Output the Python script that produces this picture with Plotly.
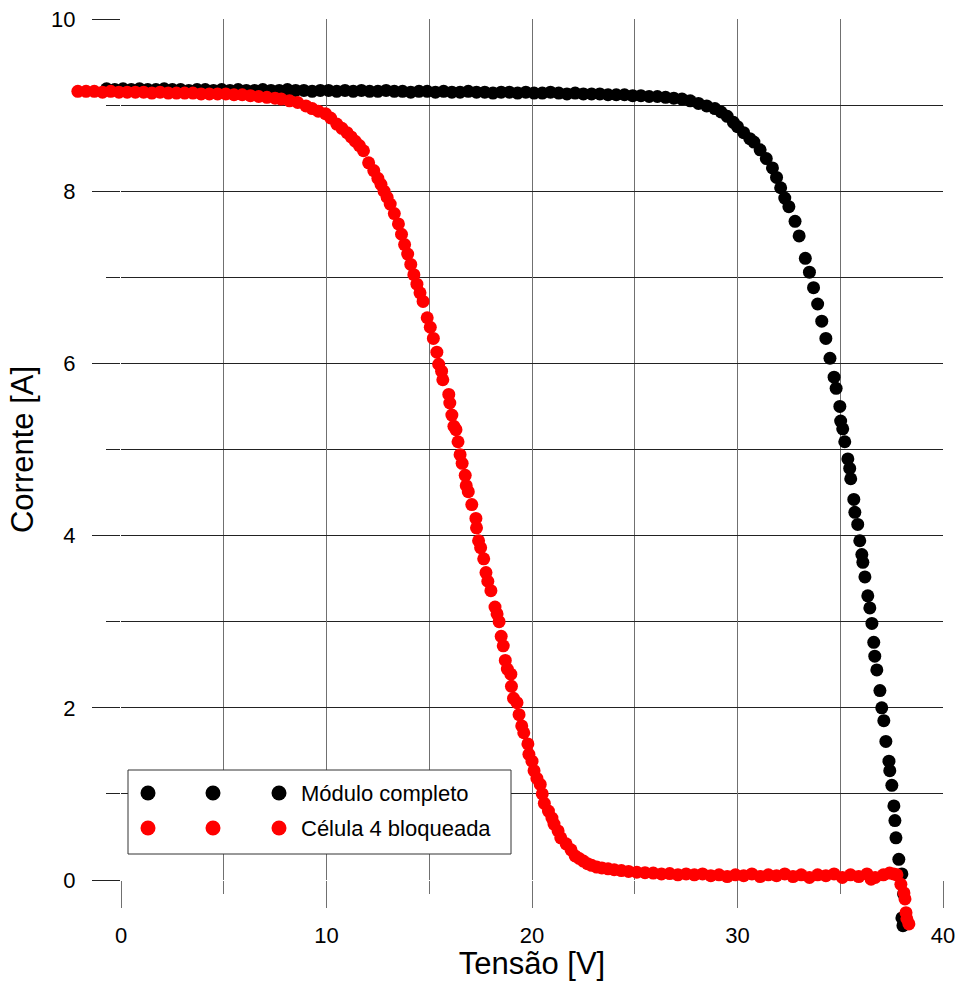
import plotly.graph_objects as go

# ---- Data: Módulo completo (black) ----
v_full = [-0.7, -0.3, 0.1, 0.5, 0.9, 1.3, 1.7, 2.1, 2.5, 2.9, 3.3, 3.7, 4.1, 4.5, 4.9, 5.3, 5.7, 6.1, 6.5, 6.9,
          7.3, 7.7, 8.1, 8.5, 8.9, 9.3, 9.7, 10.1, 10.5, 10.9, 11.3, 11.7, 12.1, 12.5, 12.9, 13.3, 13.7, 14.1, 14.5, 14.9,
          15.3, 15.7, 16.1, 16.5, 16.9, 17.3, 17.7, 18.1, 18.5, 18.9, 19.3, 19.7, 20.1, 20.5, 20.9, 21.3, 21.7, 22.1, 22.5, 22.9,
          23.3, 23.7, 24.1, 24.5, 24.9, 25.3, 25.7, 26.1, 26.5, 26.9, 27.3, 27.7, 28.1, 28.5, 28.9, 29.2, 29.5, 29.8, 30.0, 30.3,
          30.6, 30.8, 31.1, 31.4, 31.7, 31.9, 32.1, 32.3, 32.5, 32.8, 33.0, 33.3, 33.5, 33.7, 33.9, 34.1, 34.3, 34.5, 34.7, 34.8,
          34.98, 35.02, 35.12, 35.22, 35.37, 35.46, 35.51, 35.66, 35.71, 35.85, 35.95, 36.05, 36.10, 36.20, 36.34, 36.44, 36.54, 36.63,
          36.68, 36.78, 36.93, 37.02, 37.12, 37.22, 37.37, 37.41, 37.51, 37.61, 37.66, 37.71, 37.85, 38.0, 38.08, 38.0, 38.05]
i_full = [9.19, 9.18, 9.19, 9.18, 9.19, 9.18, 9.18, 9.19, 9.18, 9.18, 9.17, 9.18, 9.18, 9.17, 9.18, 9.17, 9.18, 9.17, 9.17, 9.18,
          9.17, 9.17, 9.18, 9.17, 9.17, 9.16, 9.17, 9.17, 9.16, 9.17, 9.16, 9.17, 9.16, 9.16, 9.17, 9.16, 9.16, 9.15, 9.16, 9.16,
          9.15, 9.16, 9.15, 9.15, 9.16, 9.15, 9.15, 9.14, 9.15, 9.15, 9.14, 9.15, 9.14, 9.14, 9.15, 9.14, 9.13, 9.14, 9.13, 9.13,
          9.13, 9.12, 9.12, 9.12, 9.11, 9.11, 9.10, 9.10, 9.09, 9.08, 9.07, 9.05, 9.02, 8.99, 8.96, 8.92, 8.87, 8.80, 8.75, 8.68,
          8.61, 8.57, 8.48, 8.38, 8.27, 8.16, 8.04, 7.92, 7.82, 7.65, 7.48, 7.22, 7.06, 6.88, 6.69, 6.49, 6.29, 6.06, 5.84, 5.71,
          5.50, 5.33, 5.24, 5.09, 4.89, 4.78, 4.66, 4.42, 4.27, 4.13, 3.94, 3.78, 3.69, 3.52, 3.30, 3.16, 2.98, 2.76,
          2.60, 2.44, 2.20, 2.00, 1.85, 1.61, 1.38, 1.27, 1.10, 0.86, 0.69, 0.49, 0.24, 0.07, -0.16, -0.44, -0.53]

# ---- Data: Célula 4 bloqueada (red) ----
v_block = [-2.1, -1.7, -1.3, -0.9, -0.5, -0.1, 0.3, 0.7, 1.1, 1.5, 1.9, 2.3, 2.7, 3.1, 3.5, 3.9, 4.3, 4.7, 5.1, 5.5,
           5.9, 6.3, 6.7, 7.1, 7.5, 7.8, 8.2, 8.6, 9.0, 9.3, 9.6, 9.95, 10.2, 10.5, 10.75, 11.0, 11.2, 11.4, 11.6, 11.8,
           12.05, 12.3, 12.5, 12.65, 12.8, 12.95, 13.1, 13.3, 13.5, 13.65, 13.8, 13.95, 14.1, 14.25, 14.4, 14.55, 14.7, 14.9, 15.05, 15.2,
           15.37, 15.46, 15.6, 15.66, 15.95, 16.0, 16.1, 16.2, 16.3, 16.4, 16.5, 16.6, 16.75, 16.8, 16.9, 17.07, 17.27, 17.3, 17.4, 17.5,
           17.65, 17.76, 17.85, 18.0, 18.2, 18.3, 18.4, 18.5, 18.6, 18.7, 18.8, 18.97, 19.0, 19.1, 19.27, 19.37, 19.5, 19.6, 19.8, 19.85,
           20.0, 20.1, 20.24, 20.4, 20.5, 20.6, 20.8, 20.97, 21.07, 21.27, 21.4, 21.66, 21.9, 22.1, 22.3, 22.5, 22.7, 22.9, 23.15, 23.4,
           23.7, 24.0, 24.35, 24.7, 25.1, 25.5, 25.9, 26.3, 26.7, 27.1, 27.5, 27.9, 28.3, 28.7, 29.1, 29.5, 29.9, 30.3, 30.7, 31.1,
           31.5, 31.9, 32.3, 32.7, 33.1, 33.5, 33.9, 34.3, 34.7, 35.1, 35.5, 35.9, 36.3, 36.5, 36.7, 37.1, 37.4, 37.6, 37.76, 37.95,
           38.1, 38.15, 38.2, 38.24, 38.34]
i_block = [9.16, 9.16, 9.16, 9.15, 9.16, 9.15, 9.15, 9.15, 9.15, 9.14, 9.15, 9.14, 9.14, 9.14, 9.14, 9.13, 9.13, 9.13, 9.13, 9.12,
           9.12, 9.11, 9.10, 9.09, 9.08, 9.07, 9.05, 9.03, 8.99, 8.96, 8.93, 8.90, 8.85, 8.78, 8.73, 8.68, 8.63, 8.58, 8.53, 8.47,
           8.33, 8.24, 8.15, 8.08, 8.00, 7.93, 7.85, 7.74, 7.62, 7.50, 7.38, 7.27, 7.15, 7.03, 6.92, 6.82, 6.72, 6.53, 6.42, 6.29,
           6.13, 5.99, 5.91, 5.81, 5.64, 5.54, 5.40, 5.27, 5.23, 5.09, 4.94, 4.84, 4.70, 4.58, 4.51, 4.36, 4.20, 4.09, 3.94, 3.86,
           3.73, 3.57, 3.47, 3.36, 3.17, 3.09, 3.00, 2.83, 2.72, 2.55, 2.45, 2.39, 2.25, 2.11, 2.06, 1.92, 1.79, 1.71, 1.58, 1.46,
           1.38, 1.27, 1.18, 1.11, 1.00, 0.89, 0.80, 0.72, 0.65, 0.57, 0.49, 0.42, 0.35, 0.28, 0.25, 0.22, 0.19, 0.17, 0.15, 0.14,
           0.13, 0.12, 0.11, 0.10, 0.09, 0.085, 0.08, 0.07, 0.075, 0.06, 0.07, 0.06, 0.07, 0.05, 0.06, 0.04, 0.06, 0.05, 0.07, 0.04,
           0.06, 0.05, 0.07, 0.04, 0.06, 0.03, 0.06, 0.05, 0.07, 0.03, 0.06, 0.04, 0.07, 0.01, 0.03, 0.06, 0.08, 0.07, 0.06, -0.05,
           -0.15, -0.22, -0.38, -0.45, -0.51]

series_names = ["Módulo completo", "Célula 4 bloqueada"]
series_colors = ["#000000", "#ff0000"]

x_ticks = [0, 10, 20, 30, 40]
x_minor = [5, 15, 25, 35]
y_ticks = [0, 2, 4, 6, 8, 10]
y_minor = [1, 3, 5, 7, 9]

FONT = "Liberation Sans, Arial, sans-serif"
W, H = 959, 981

# grid region (0..40 V, 0..10 A) in pixels
GX0, GX1, GY0, GY1 = 121, 943, 880, 19
# full data region in pixels (lets points sit outside the grid)
L, R, T, B = 66, 949, 19, 934
pw, ph = R - L, B - T
sx = (GX1 - GX0) / 40.0     # px per volt
sy = (GY0 - GY1) / 10.0     # px per amp

def px(x):
    return (x - L) / pw

def py(y):
    return (B - y) / ph

fig = go.Figure()
# invisible trace so the grid/tick axes (x, y) are created
fig.add_trace(go.Scatter(x=[None], y=[None], xaxis="x", yaxis="y", mode="markers",
                         showlegend=False, hoverinfo="skip"))
for v, i, name, col in [(v_full, i_full, series_names[0], series_colors[0]),
                        (v_block, i_block, series_names[1], series_colors[1])]:
    fig.add_trace(go.Scatter(x=v, y=i, mode="markers", name=name, cliponaxis=False,
                             xaxis="x2", yaxis="y2",
                             marker=dict(color=col, size=13, line=dict(width=0))))

shapes = [dict(type="rect", xref="paper", yref="paper", x0=px(128), x1=px(511), y0=py(854), y1=py(770),
               line=dict(color="#333333", width=1), fillcolor="white", layer="above")]
annotations = []
rows = [793, 828]
for r, name, col in zip(rows, series_names, series_colors):
    for mx in [148, 213, 279]:
        shapes.append(dict(type="circle", xref="paper", yref="paper", xsizemode="pixel", ysizemode="pixel",
                           xanchor=px(mx), yanchor=py(r), x0=-7.5, x1=7.5, y0=-7.5, y1=7.5,
                           fillcolor=col, line=dict(width=0), layer="above"))
    annotations.append(dict(text=name, xref="paper", yref="paper", x=px(299), y=py(r), xanchor="left",
                            yanchor="middle", showarrow=False, font=dict(family=FONT, size=22, color="black")))

fig.update_layout(
    width=W, height=H,
    margin=dict(l=L, r=W - R, t=T, b=H - B, pad=0, autoexpand=False),
    paper_bgcolor="white", plot_bgcolor="rgba(0,0,0,0)",
    showlegend=False,
    font=dict(family=FONT, color="black"),
    shapes=shapes, annotations=annotations,
    xaxis=dict(domain=[px(GX0), px(GX1)], anchor="y", range=[0, 40], automargin=False,
               tickvals=x_ticks, ticktext=[str(t) for t in x_ticks],
               showgrid=True, gridcolor="#707070", gridwidth=1.3,
               ticks="outside", ticklen=27, tickcolor="#707070", tickwidth=1.3,
               ticklabelstandoff=9, zeroline=False, showline=False,
               tickfont=dict(family=FONT, size=22),
               minor=dict(tickvals=x_minor, showgrid=True, gridcolor="#707070", gridwidth=1.3,
                          ticks="outside", ticklen=13, tickcolor="#707070", tickwidth=1.3),
               title=dict(text="Tensão [V]", font=dict(family=FONT, size=31), standoff=12)),
    yaxis=dict(domain=[py(GY0), py(GY1)], anchor="x", range=[0, 10], automargin=False,
               tickvals=y_ticks, ticktext=[str(t) for t in y_ticks],
               showgrid=True, gridcolor="#222222", gridwidth=1.1,
               ticks="outside", ticklen=28, tickcolor="#222222", tickwidth=1.1,
               ticklabelstandoff=12, zeroline=False, showline=False,
               tickfont=dict(family=FONT, size=22),
               minor=dict(tickvals=y_minor, showgrid=True, gridcolor="#222222", gridwidth=1.1,
                          ticks="outside", ticklen=14, tickcolor="#222222", tickwidth=1.1),
               title=dict(text="Corrente [A]", font=dict(family=FONT, size=31), standoff=8)),
    xaxis2=dict(domain=[0, 1], anchor="y2", range=[(L - GX0) / sx, (R - GX0) / sx], visible=False,
                automargin=False),
    yaxis2=dict(domain=[0, 1], anchor="x2", range=[(GY0 - B) / sy, (GY0 - T) / sy], visible=False,
                automargin=False),
)

fig.write_html("out.html")
